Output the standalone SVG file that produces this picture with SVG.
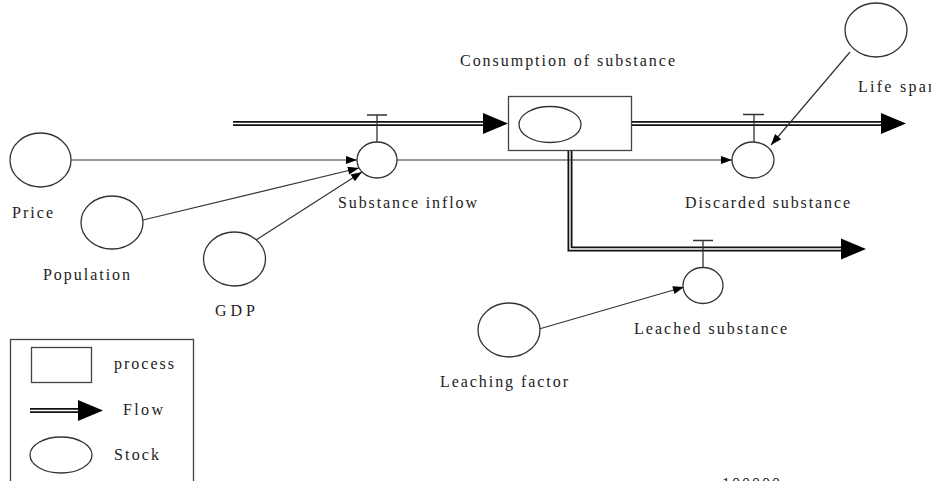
<svg xmlns="http://www.w3.org/2000/svg" width="931" height="481" viewBox="0 0 931 481">
  <style>
    .stock { fill: #fff; stroke: #333; stroke-width: 1.3; }
    .proc { fill: #fff; stroke: #444; stroke-width: 1.3; }
    .link { fill: none; stroke: #333; stroke-width: 1.2; }
    .valve { fill: none; stroke: #333; stroke-width: 1.3; }
    .flow-outer { fill: none; stroke: #111; stroke-width: 5; stroke-linejoin: miter; }
    .flow-inner { fill: none; stroke: #fff; stroke-width: 1.4; stroke-linejoin: miter; }
    text { font-family: "Liberation Serif", "Times New Roman", serif; font-size: 16px; fill: #222; lengthAdjust: spacing; }
  </style>
  <defs>
    <marker id="flowHead" markerUnits="userSpaceOnUse" markerWidth="25" markerHeight="22" refX="0" refY="10.5" orient="auto" overflow="visible">
      <path d="M0,0 L25,10.5 L0,21 Z" fill="#000"/>
    </marker>
    <marker id="linkHead" markerUnits="userSpaceOnUse" markerWidth="11" markerHeight="9" refX="11" refY="4" orient="auto" overflow="visible">
      <path d="M0,0 L11,4 L0,8 Z" fill="#000"/>
    </marker>
  </defs>

  <!-- flows (double lines) -->
  <g id="flows">
    <path class="flow-outer" d="M233,123.5 H483" marker-end="url(#flowHead)"/>
    <path class="flow-inner" d="M233,123.5 H483"/>
    <path class="flow-outer" d="M632,123.5 H881" marker-end="url(#flowHead)"/>
    <path class="flow-inner" d="M632,123.5 H881"/>
    <path class="flow-outer" d="M570,151 V249 H841" marker-end="url(#flowHead)"/>
    <path class="flow-inner" d="M570,151 V249 H841"/>
  </g>

  <!-- information links -->
  <g id="links">
    <line class="link" x1="71" y1="160" x2="357" y2="160" marker-end="url(#linkHead)"/>
    <line class="link" x1="143" y1="220" x2="359" y2="168" marker-end="url(#linkHead)"/>
    <line class="link" x1="256" y1="240" x2="362" y2="172" marker-end="url(#linkHead)"/>
    <line class="link" x1="397" y1="160" x2="732" y2="160" marker-end="url(#linkHead)"/>
    <line class="link" x1="850" y1="52" x2="771" y2="145" marker-end="url(#linkHead)"/>
    <line class="link" x1="539" y1="329" x2="684" y2="287" marker-end="url(#linkHead)"/>
  </g>

  <!-- valves -->
  <g id="valves">
    <path class="valve" d="M367,115 H387 M377,115 V142"/>
    <path class="valve" d="M743,114.5 H764 M754,114.5 V142"/>
    <path class="valve" d="M693,240.5 H713 M703,240.5 V267"/>
  </g>

  <g id="consumption">
    <rect class="proc" x="508.5" y="96.5" width="123" height="54"/>
    <ellipse class="stock" cx="550" cy="124.5" rx="31" ry="18"/>
    <text x="460" y="66" textLength="215">Consumption of substance</text>
  </g>

  <g id="price">
    <ellipse class="stock" cx="40.5" cy="160" rx="30.5" ry="27"/>
    <text x="12" y="218" textLength="41">Price</text>
  </g>

  <g id="population">
    <ellipse class="stock" cx="112" cy="222.5" rx="31" ry="26.5"/>
    <text x="43" y="280" textLength="87">Population</text>
  </g>

  <g id="gdp">
    <ellipse class="stock" cx="234.5" cy="259" rx="31" ry="27"/>
    <text x="215" y="316" textLength="40">GDP</text>
  </g>

  <g id="substance-inflow">
    <ellipse class="stock" cx="377" cy="160" rx="20" ry="18"/>
    <text x="338" y="208" textLength="139">Substance inflow</text>
  </g>

  <g id="discarded-substance">
    <ellipse class="stock" cx="753" cy="160" rx="21" ry="18"/>
    <text x="685" y="208" textLength="165">Discarded substance</text>
  </g>

  <g id="life-span">
    <ellipse class="stock" cx="876" cy="30" rx="31" ry="27"/>
    <text x="858" y="92" textLength="78">Life span</text>
  </g>

  <g id="leached-substance">
    <ellipse class="stock" cx="703" cy="285.5" rx="20" ry="18"/>
    <text x="634" y="334" textLength="153">Leached substance</text>
  </g>

  <g id="leaching-factor">
    <ellipse class="stock" cx="509" cy="330" rx="31" ry="27"/>
    <text x="440" y="387" textLength="128">Leaching factor</text>
  </g>

  <!-- legend -->
  <g id="legend">
    <rect x="10.5" y="339.5" width="183" height="160" fill="#fff" stroke="#444" stroke-width="1.3"/>
    <rect class="proc" x="31.5" y="347.5" width="60" height="35"/>
    <text x="114" y="369" textLength="60">process</text>
    <path class="flow-outer" d="M30,410.5 H78" marker-end="url(#flowHead)"/>
    <path class="flow-inner" d="M30,410.5 H78"/>
    <text x="123" y="415" textLength="40">Flow</text>
    <ellipse class="stock" cx="61" cy="455" rx="31" ry="18"/>
    <text x="114" y="460" textLength="45">Stock</text>
  </g>

  <text x="722" y="489" textLength="58" font-size="15">100000</text>
</svg>
